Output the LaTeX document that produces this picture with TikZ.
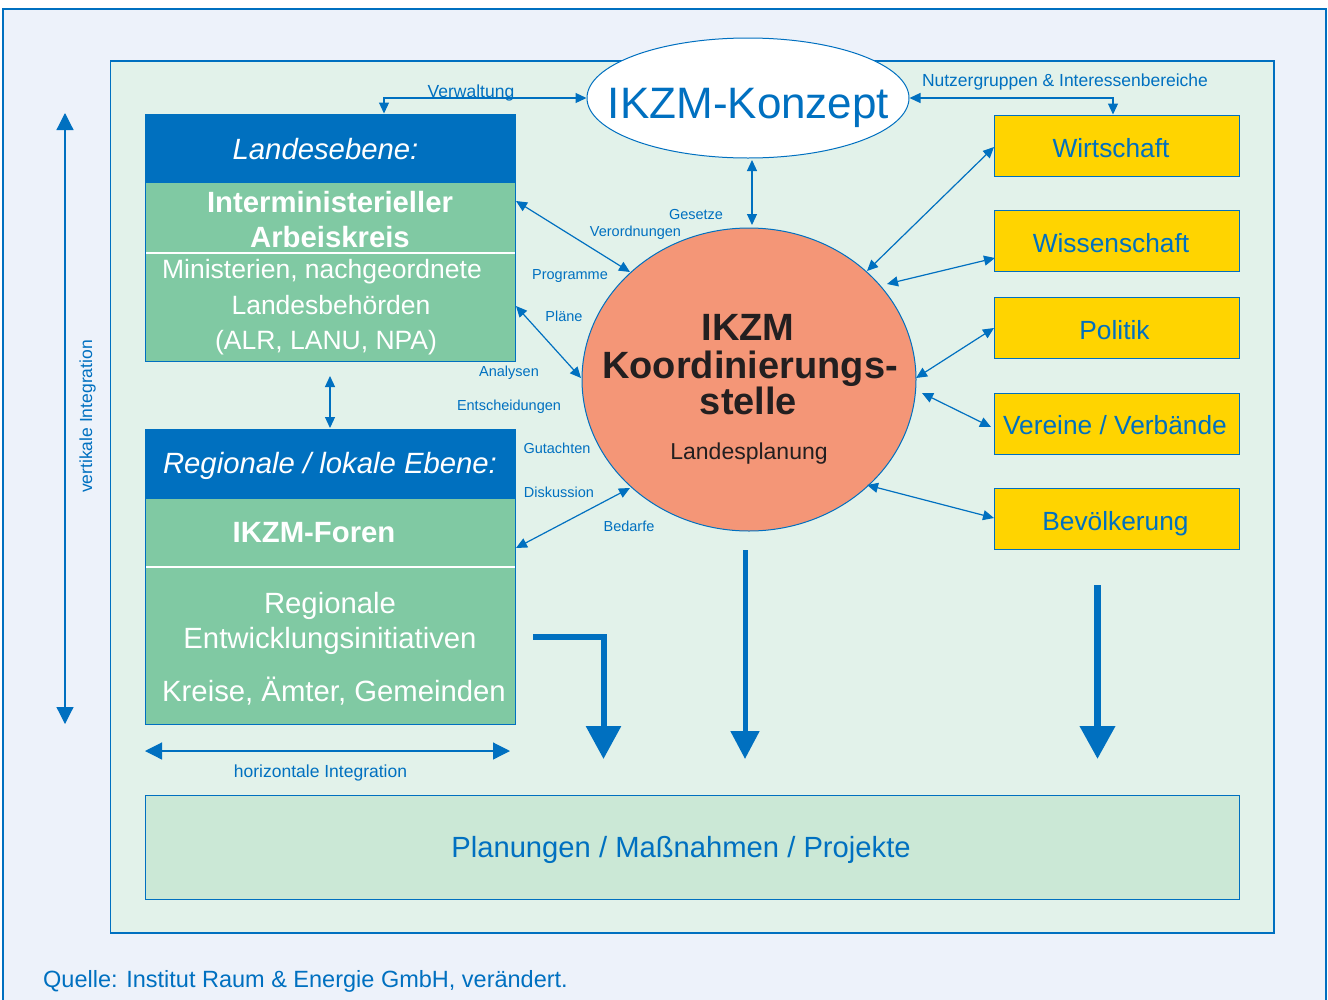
\documentclass[tikz,border=0pt]{standalone}
\usepackage{fontspec}
\setmainfont{Liberation Sans}
\usetikzlibrary{arrows.meta,shapes.geometric,calc}
\definecolor{lineblue}{HTML}{0070C0}
\definecolor{hdrblue}{HTML}{0070BF}
\definecolor{outerbg}{HTML}{EDF2FA}
\definecolor{innerbg}{HTML}{E2F2EA}
\definecolor{boxgreen}{HTML}{80C9A3}
\definecolor{planfill}{HTML}{CBE8D6}
\definecolor{yel}{HTML}{FFD400}
\definecolor{salmon}{HTML}{F49677}
\definecolor{darktxt}{HTML}{231F20}
\newcommand\fsz[1]{\fontsize{#1}{#1}\selectfont}
\begin{document}
\begin{tikzpicture}[x=1pt,y=-1pt,
  conn/.style={draw=lineblue, line width=1.2pt},
  dbl/.style={conn, {Triangle[length=11pt,width=10pt]}-{Triangle[length=11pt,width=10pt]}},
  intarrow/.style={conn, {Triangle[length=17pt,width=17pt]}-{Triangle[length=17pt,width=17pt]}},
  lbl/.style={text=lineblue, inner sep=0pt, anchor=base, font=\fsz{14.5}},
  midlbl/.style={text=lineblue, inner sep=0pt, anchor=base, font=\fsz{17.5}},
  wtxt/.style={text=white, inner sep=0pt, anchor=base},
  ctxt/.style={text=darktxt, inner sep=0pt, anchor=base},
  greenbox/.style={draw=lineblue, line width=1pt, fill=boxgreen, inner sep=0pt, minimum width=370pt},
  hdrbox/.style={draw=hdrblue, line width=1pt, fill=hdrblue, inner sep=0pt, minimum width=370pt, minimum height=68pt},
  ybox/.style={draw=lineblue, line width=1pt, fill=yel, minimum width=245pt, minimum height=61pt, inner sep=0pt, text=lineblue, font=\fsz{26.3}, text height=24pt, text depth=0pt},
]
\clip (0,0) rectangle (1328,999);
\path[use as bounding box] (0,0) rectangle (1328,999);
\fill[white] (0,0) rectangle (1328,999);
% frames
\draw[draw=lineblue, line width=2pt, fill=outerbg] (3,9) rectangle (1326,1030);
\draw[draw=lineblue, line width=1.2pt, fill=innerbg] (110.5,61) rectangle (1274,933);

% Landesebene box
\node[greenbox, minimum height=247pt] (lande) at (330.5,237.5) {};
\node[hdrbox] (landeh) at (330.5,148) {};
\draw[white, line width=1.2pt] (146,253) -- (515,253);
\node[wtxt, font=\fsz{29.3}\itshape] (t1) at (325.5,159) {Landesebene:};
\node[wtxt, font=\fsz{29.3}\bfseries] (t2) at (330,212) {Interministerieller};
\node[wtxt, font=\fsz{29.3}\bfseries] (t3) at (330,247) {Arbeiskreis};
\node[wtxt, font=\fsz{26.5}] (t4) at (322,278) {Ministerien, nachgeordnete};
\node[wtxt, font=\fsz{26.5}] (t5) at (331,314) {Landesbehörden};
\node[wtxt, font=\fsz{26.5}] (t6) at (326,349) {(ALR, LANU, NPA)};

% Regionale box
\node[greenbox, minimum height=295pt] (regio) at (330.5,577) {};
\node[hdrbox] (regioh) at (330.5,464) {};
\draw[white, line width=1.2pt] (146,567) -- (515,567);
\node[wtxt, font=\fsz{29.3}\itshape] (r1) at (330,473) {Regionale / lokale Ebene:};
\node[wtxt, font=\fsz{29.3}\bfseries] (r2) at (314,542) {IKZM-Foren};
\node[wtxt, font=\fsz{29.3}] (r3) at (330,613) {Regionale};
\node[wtxt, font=\fsz{29.3}] (r4) at (330,648) {Entwicklungsinitiativen};
\node[wtxt, font=\fsz{29.3}] (r5) at (334,701) {Kreise, Ämter, Gemeinden};

% Konzept ellipse
\node[ellipse, draw=lineblue, line width=1pt, fill=white, minimum width=322pt, minimum height=120pt, inner sep=0pt] (konz) at (748,98) {};
\node[text=lineblue, inner sep=0pt, anchor=base, font=\fsz{44}] (konzt) at (748.5,118) {IKZM-Konzept};

% Koordinierungsstelle circle
\node[ellipse, draw=lineblue, line width=1pt, fill=salmon, minimum width=334pt, minimum height=303pt, inner sep=0pt] (circ) at (749,379.5) {};
\node[ctxt, font=\fsz{38}\bfseries] (c1) at (748,340) {IKZM};
\node[ctxt, font=\fsz{38}\bfseries] (c2) at (750,378) {Koordinierungs-};
\node[ctxt, font=\fsz{38}\bfseries] (c3) at (748.5,414) {stelle};
\node[ctxt, font=\fsz{23}] (c4) at (749,459) {Landesplanung};

% yellow boxes
\node[ybox] (wirt) at (1116.5,145.5) {Wirtschaft\hspace*{11pt}};
\node[ybox] (wiss) at (1116.5,240.5) {Wissenschaft\hspace*{11pt}};
\node[ybox] (poli) at (1116.5,327.5) {Politik\hspace*{4pt}};
\node[ybox, text height=22pt] (vere) at (1116.5,423.5) {Vereine / Verbände\hspace*{3pt}};
\node[ybox, text height=23pt] (bevo) at (1116.5,518.5) {Bevölkerung\hspace*{2pt}};

% Planungen box
\node[draw=lineblue, line width=1pt, fill=planfill, minimum width=1094pt, minimum height=104pt, inner sep=0pt] (plan) at (692,847) {};
\node[text=lineblue, inner sep=0pt, anchor=base, font=\fsz{29.2}] (plant) at (681,857) {Planungen / Maßnahmen / Projekte};

% coordinates
\coordinate (vw) at (384,98);
\coordinate (nz) at (1113,98);
\coordinate (kc1) at (752,160);
\coordinate (kc2) at (752,225);
\coordinate (la1) at (516,201);
\coordinate (ca1) at (630,272);
\coordinate (la2) at (516,306);
\coordinate (ca2) at (581,378);
\coordinate (ra1) at (516,548);
\coordinate (ca3) at (630,488);
\coordinate (lr1) at (330,376);
\coordinate (lr2) at (330,428);
\coordinate (wi1) at (994,147);
\coordinate (cw1) at (867,271);
\coordinate (ws1) at (995,258);
\coordinate (cw2) at (887,284);
\coordinate (po1) at (994,328);
\coordinate (cw3) at (916,378);
\coordinate (ve1) at (991,427);
\coordinate (cw4) at (922,393);
\coordinate (be1) at (994,518);
\coordinate (cw5) at (867,485);
\coordinate (vi1) at (65,113);
\coordinate (vi2) at (65,724);
\coordinate (hi1) at (145,751);
\coordinate (hi2) at (510,751);
\coordinate (ba1) at (533,637);
\coordinate (ba2) at (603.5,759);
\coordinate (bm1) at (745,550);
\coordinate (bm2) at (745,759);
\coordinate (br1) at (1097.5,585);
\coordinate (br2) at (1097.5,759);

% connectors
\draw[dbl] (landeh.north -| vw) |- (konz.west);
\draw[dbl] (konz.east) -| (wirt.north -| nz);
\draw[dbl] (kc1) -- (kc2);
\draw[dbl] (la1) -- (ca1);
\draw[dbl] (la2) -- (ca2);
\draw[dbl] (ra1) -- (ca3);
\draw[dbl] (lr1) -- (lr2);
\draw[dbl] (wi1) -- (cw1);
\draw[dbl] (ws1) -- (cw2);
\draw[dbl] (po1) -- (cw3);
\draw[dbl] (ve1) -- (cw4);
\draw[dbl] (be1) -- (cw5);
\draw[intarrow] (vi1) -- (vi2);
\draw[intarrow] (hi1) -- (hi2);
\draw[draw=lineblue, line width=6pt, -{Triangle[length=33pt,width=34pt]}] (ba1) -| (ba2);
\draw[draw=lineblue, line width=5pt, -{Triangle[length=28pt,width=28pt]}] (bm1) -- (bm2);
\draw[draw=lineblue, line width=7pt, -{Triangle[length=33pt,width=34pt]}] (br1) -- (br2);

% labels
\node[midlbl] (lvw) at (471,97) {Verwaltung};
\node[midlbl] (lnz) at (1065,86) {Nutzergruppen \& Interessenbereiche};
\node[lbl] (lg1) at (696,219) {Gesetze};
\node[lbl] (lg2) at (635.5,236) {Verordnungen};
\node[lbl] (lg3) at (570,279) {Programme};
\node[lbl] (lg4) at (564,321) {Pläne};
\node[lbl] (lg5) at (509,376) {Analysen};
\node[lbl] (lg6) at (509,410) {Entscheidungen};
\node[lbl] (lg7) at (557,453) {Gutachten};
\node[lbl] (lg8) at (559,497) {Diskussion};
\node[lbl] (lg9) at (629,531) {Bedarfe};
\node[midlbl, rotate=90] (lvi) at (92,416.5) {vertikale Integration};
\node[midlbl] (lhi) at (320.5,777) {horizontale Integration};
\node[text=lineblue, inner sep=0pt, anchor=base west, font=\fsz{23.5}] (quelle) at (43,987) {Quelle: Institut Raum \& Energie GmbH, verändert.};
\end{tikzpicture}
\end{document}
